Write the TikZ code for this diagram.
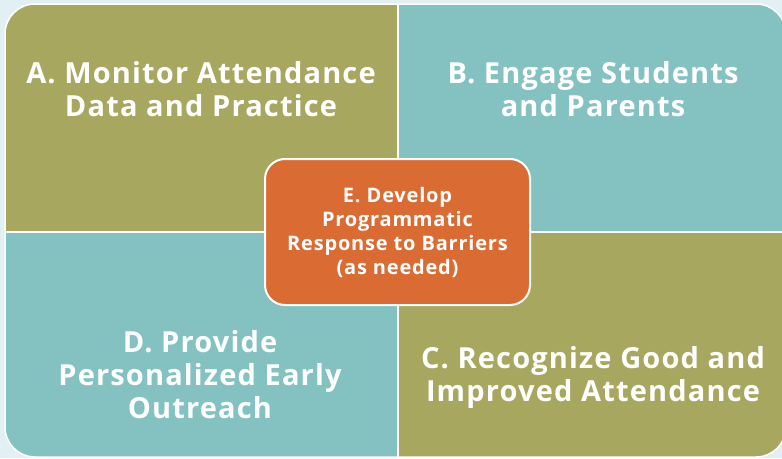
\documentclass[tikz,border=0pt]{standalone}
\usepackage{fontspec}
\setmainfont{Open Sans}[Ligatures=NoCommon, LetterSpace=4]
\usepackage{xcolor}
\definecolor{bgblue}{RGB}{226,240,244}
\definecolor{quadolive}{RGB}{167,167,96}
\definecolor{quadteal}{RGB}{132,194,194}
\definecolor{boxorange}{RGB}{218,108,51}

\begin{document}
\begin{tikzpicture}[x=1pt, y=-1pt]
  \tikzset{
    bigtext/.style={text=white, align=center, font=\bfseries\fontsize{29}{33}\selectfont},
    smalltext/.style={text=white, align=center, font=\bfseries\fontsize{20}{24}\selectfont}
  }
  % background
  \fill[bgblue] (0,0) rectangle (782,458);
  \useasboundingbox (0,0) rectangle (782,458);

  % four quadrants inside one rounded frame
  \begin{scope}
    \clip[rounded corners=30] (5,4) rectangle (786,457);
    \fill[quadolive] (5,4) rectangle (398,232);
    \fill[quadteal] (398,4) rectangle (786,232);
    \fill[quadteal] (5,232) rectangle (398,457);
    \fill[quadolive] (398,232) rectangle (786,457);
    \draw[white, line width=2] (398,4) -- (398,457);
    \draw[white, line width=2] (5,232) -- (786,232);
  \end{scope}
  \draw[white, line width=1.5, rounded corners=30] (5,4) rectangle (786,457);

  % quadrant labels
  \node[bigtext] (A) at (201,89) {A. Monitor Attendance\\Data and Practice};
  \node[bigtext] (B) at (593,89) {B. Engage Students\\and Parents};
  \node[bigtext] (D) at (200,375) {D. Provide\\Personalized Early\\Outreach};
  \node[bigtext] (C) at (593,377) {C. Recognize Good and\\Improved Attendance};

  % centre box
  \node[smalltext, draw=white, line width=2, fill=boxorange, rounded corners=20,
        minimum width=265, minimum height=146] (E) at (397.5,232)
        {E. Develop\\Programmatic\\Response to Barriers\\(as needed)};
\end{tikzpicture}
\end{document}
